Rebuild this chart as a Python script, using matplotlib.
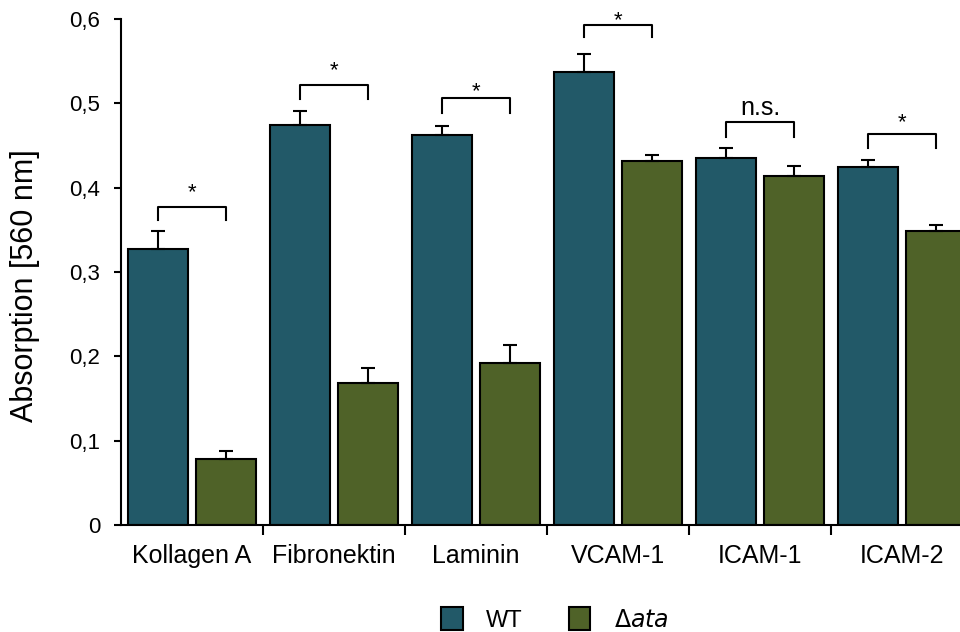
import numpy as np
import matplotlib.pyplot as plt
from matplotlib.ticker import FuncFormatter

plt.rcParams['font.family'] = ['Liberation Sans', 'DejaVu Sans']

categories = ['Kollagen A', 'Fibronektin', 'Laminin', 'VCAM-1', 'ICAM-1', 'ICAM-2']
wt_mean = [0.327, 0.474, 0.462, 0.537, 0.435, 0.425]
wt_err = [0.022, 0.017, 0.011, 0.021, 0.012, 0.008]
ata_mean = [0.078, 0.168, 0.192, 0.432, 0.414, 0.349]
ata_err = [0.010, 0.018, 0.021, 0.007, 0.012, 0.007]

# significance brackets: top of bracket, bottom of its end ticks, label and label height
sig_top = [0.377, 0.522, 0.506, 0.593, 0.478, 0.464]
sig_bottom = [0.362, 0.505, 0.489, 0.579, 0.460, 0.447]
sig_label = ['*', '*', '*', '*', 'n.s.', '*']
sig_text_y = [0.382, 0.5265, 0.5016, 0.586, 0.480, 0.465]

wt_color = '#225968'
ata_color = '#4f6228'

fig = plt.figure(figsize=(9.6, 6.32), dpi=100)
ax = fig.add_axes([0.126, 0.1693, 0.8875, 0.8006])

x = np.arange(len(categories))
w = 0.42
off = 0.24

ax.bar(x - off, wt_mean, w, color=wt_color, edgecolor='black', linewidth=1.5,
       yerr=[np.zeros(len(x)), wt_err],
       error_kw=dict(ecolor='black', elinewidth=1.5, capsize=5, capthick=1.5),
       label='WT', zorder=2)
ax.bar(x + off, ata_mean, w, color=ata_color, edgecolor='black', linewidth=1.5,
       yerr=[np.zeros(len(x)), ata_err],
       error_kw=dict(ecolor='black', elinewidth=1.5, capsize=5, capthick=1.5),
       label=r'$\Delta\mathit{ata}$', zorder=2)

for i in range(len(categories)):
    x0, x1 = i - off, i + off
    ax.plot([x0, x0, x1, x1], [sig_bottom[i], sig_top[i], sig_top[i], sig_bottom[i]],
            color='black', lw=1.5, solid_joinstyle='round', clip_on=False, zorder=3)
    size = 16 if sig_label[i] == '*' else 18
    ax.text(i, sig_text_y[i], sig_label[i], ha='center', va='bottom', fontsize=size,
            clip_on=False)

ax.set_xlim(-0.5, len(categories) - 0.5)
ax.set_ylim(0, 0.6)
ax.set_yticks(np.arange(0, 0.61, 0.1))
ax.yaxis.set_major_formatter(FuncFormatter(
    lambda v, p: '0' if abs(v) < 1e-9 else f'{v:.1f}'.replace('.', ',')))
ax.tick_params(axis='y', labelsize=16, width=1.5, length=5, direction='out', pad=10)

ax.set_xticks(x)
ax.set_xticklabels(categories, fontsize=18)
ax.set_xticks(np.arange(0.5, len(categories) - 0.5, 1), minor=True)
ax.tick_params(axis='x', which='major', length=0, pad=14)
ax.tick_params(axis='x', which='minor', length=7, width=1.5, direction='out')

for side in ['top', 'right']:
    ax.spines[side].set_visible(False)
ax.spines['left'].set_linewidth(1.5)
ax.spines['bottom'].set_linewidth(1.5)

ax.set_ylabel('Absorption [560 nm]', fontsize=22, va='center')
ax.yaxis.set_label_coords(-0.113, 0.474)

leg = fig.legend(loc='lower center', bbox_to_anchor=(0.578, -0.033), ncol=2, frameon=False,
                 fontsize=17, handlelength=0.9, handleheight=1.1, columnspacing=1.95,
                 handletextpad=1.0)

fig.savefig('out.png', dpi=100)
